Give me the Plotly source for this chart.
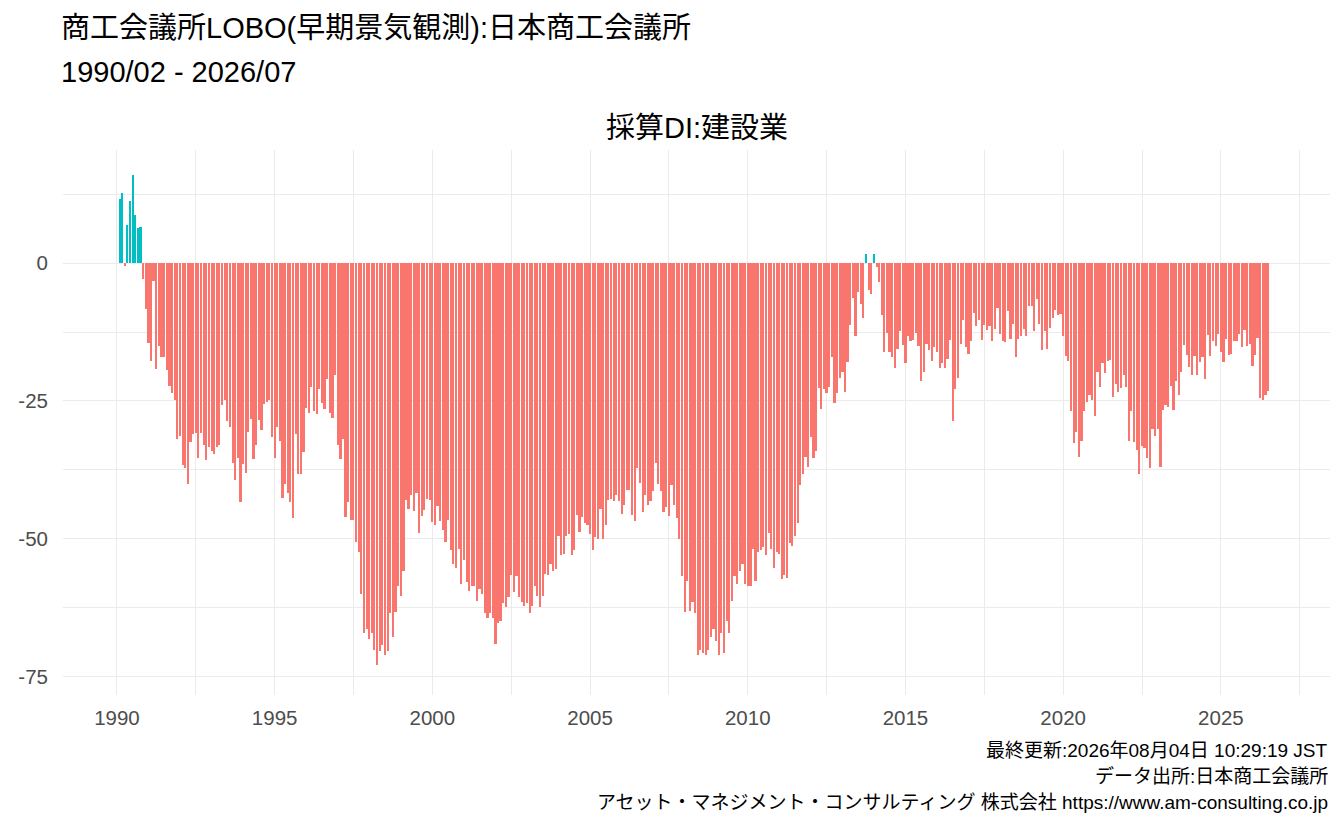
import pandas as pd
import plotly.graph_objects as go

# 採算DI:建設業 (monthly, 1990/02 - 2026/07)
start_month = "1990-02-01"
di_values = [
    11.7, 12.7, -0.5, 6.9, 11.2, 15.9, 8.7, 6.3, 6.5, -2.9, -8.3,                 # 1990 (Feb-)
    -14.4, -17.7, -3.3, -19.2, -15.0, -17.0, -17.0, -19.3, -22.2, -23.6, -24.8, -31.9,  # 1991
    -31.3, -36.6, -37.1, -40.0, -32.4, -31.0, -30.8, -35.3, -30.8, -33.0, -35.7, -33.3,  # 1992
    -34.0, -34.7, -33.3, -32.9, -25.8, -24.8, -28.6, -29.8, -36.2, -39.4, -35.3, -43.4,  # 1993
    -36.5, -38.0, -30.6, -28.2, -35.6, -32.9, -28.4, -30.2, -25.5, -25.1, -24.9, -31.5,  # 1994
    -35.3, -29.8, -32.2, -42.5, -40.0, -41.6, -43.4, -46.3, -30.9, -38.2, -38.3, -34.2,  # 1995
    -26.2, -27.1, -22.4, -26.9, -27.3, -22.9, -25.3, -26.4, -21.1, -27.1, -28.0, -20.2,  # 1996
    -32.9, -35.6, -31.8, -46.0, -43.4, -46.5, -46.5, -50.5, -52.3, -59.9, -67.1, -66.4,  # 1997
    -68.2, -67.1, -70.2, -72.9, -70.4, -69.3, -71.1, -70.4, -63.4, -67.7, -63.2, -58.6,  # 1998
    -60.4, -55.9, -42.9, -44.5, -42.0, -44.9, -41.6, -48.9, -45.8, -44.7, -42.7, -42.9,  # 1999
    -47.0, -47.4, -44.0, -46.7, -48.3, -50.5, -46.5, -52.1, -54.5, -55.2, -51.9, -58.1,  # 2000
    -53.9, -57.9, -59.5, -58.5, -58.6, -61.2, -59.0, -59.9, -63.4, -64.3, -63.5, -64.4,  # 2001
    -69.1, -65.2, -64.8, -61.7, -62.3, -60.6, -56.6, -59.7, -56.8, -60.6, -61.4, -62.1,  # 2002
    -61.7, -63.5, -62.1, -58.5, -60.3, -62.3, -60.3, -56.3, -56.5, -54.5, -55.9, -55.4,  # 2003
    -49.4, -53.0, -52.8, -49.4, -49.2, -53.0, -52.1, -45.6, -48.7, -46.0, -47.2, -47.4,  # 2004
    -49.2, -52.1, -49.6, -50.1, -44.5, -50.1, -47.4, -42.9, -42.7, -43.1, -42.0, -43.1,  # 2005
    -45.4, -43.8, -41.1, -41.1, -45.6, -46.7, -37.1, -39.8, -45.2, -42.0, -43.8, -43.1,  # 2006
    -41.4, -36.2, -40.0, -41.3, -45.2, -44.3, -45.8, -40.2, -43.8, -46.3, -50.1, -56.8,  # 2007
    -63.2, -57.7, -63.0, -61.5, -63.5, -71.0, -70.2, -70.6, -71.0, -70.2, -67.7, -66.4,  # 2008
    -68.6, -71.0, -67.1, -70.6, -64.8, -67.1, -61.2, -56.8, -58.1, -55.9, -54.5, -58.1,  # 2009
    -58.5, -58.6, -51.8, -57.7, -52.3, -52.1, -51.4, -53.0, -49.0, -51.9, -55.2, -52.3,  # 2010
    -52.8, -57.2, -56.6, -57.0, -50.8, -51.2, -49.4, -47.2, -40.2, -38.2, -35.1, -36.9,  # 2011
    -31.6, -35.3, -34.0, -22.6, -26.4, -22.8, -23.5, -22.4, -17.0, -25.3, -23.5, -20.8,  # 2012
    -19.7, -23.3, -17.9, -11.2, -6.3, -13.2, -5.2, -7.4, -9.9, 1.6, -4.8, -5.6,         # 2013
    1.6, -0.8, -3.4, -9.5, -16.2, -12.6, -16.2, -17.0, -19.0, -15.5, -12.4, -14.8,      # 2014
    -18.2, -13.2, -14.1, -13.9, -12.6, -15.0, -21.3, -19.7, -14.6, -15.7, -17.7, -15.2,  # 2015
    -16.1, -19.1, -18.2, -19.1, -17.3, -13.9, -28.7, -22.8, -20.8, -14.6, -10.4, -15.2,  # 2016
    -16.4, -14.1, -9.0, -11.4, -10.3, -13.9, -11.2, -12.1, -11.4, -14.1, -11.9, -8.1,   # 2017
    -12.8, -14.1, -14.3, -8.6, -13.7, -11.0, -17.0, -13.7, -13.2, -11.9, -13.2, -7.7,   # 2018
    -7.7, -12.4, -6.6, -11.0, -15.7, -12.3, -15.5, -11.7, -9.9, -8.5, -9.5, -9.2,       # 2019
    -13.2, -16.8, -17.7, -26.9, -32.7, -30.6, -35.1, -32.2, -26.8, -25.1, -23.9, -24.9,  # 2020
    -27.8, -19.7, -22.4, -18.2, -20.0, -17.7, -17.5, -24.2, -22.0, -23.3, -22.6, -20.2,  # 2021
    -22.4, -32.2, -26.8, -32.4, -33.8, -38.3, -33.1, -33.5, -35.3, -37.1, -30.0, -31.3,  # 2022
    -30.0, -37.0, -26.6, -25.8, -26.0, -22.2, -26.6, -21.3, -24.0, -19.7, -14.8, -16.6,  # 2023
    -18.8, -20.2, -16.8, -20.2, -17.9, -17.0, -21.0, -13.0, -16.8, -14.1, -15.0, -12.8,  # 2024
    -16.1, -17.9, -13.7, -16.6, -16.4, -14.1, -14.1, -12.8, -15.3, -12.1, -15.0, -14.6,  # 2025
    -18.6, -16.6, -13.5, -24.4, -24.8, -23.9, -23.1,                                     # 2026 (-Jul)
]
year_ticks = list(range(1990, 2030, 5))
minor_years = [1992.5 + 5 * i for i in range(8)]
y_ticks = [0, -25, -50, -75]
y_minor = [12.5, -12.5, -37.5, -62.5]

title_main = "商工会議所LOBO(早期景気観測):日本商工会議所"
title_period = "1990/02 - 2026/07"
panel_title = "採算DI:建設業"
caption_lines = [
    "最終更新:2026年08月04日 10:29:19 JST",
    "データ出所:日本商工会議所",
    "アセット・マネジメント・コンサルティング 株式会社 https://www.am-consulting.co.jp",
]

months = pd.date_range(start_month, periods=len(di_values), freq="MS")
colors = ["#00BFC4" if v > 0 else "#F8766D" for v in di_values]

def year_to_date(y):
    yr = int(y)
    return pd.Timestamp(yr, 1, 1) + (pd.Timestamp(yr + 1, 1, 1) - pd.Timestamp(yr, 1, 1)) * (y - yr)

FONT = "Liberation Sans, Arial, Noto Sans CJK JP"
GRID = "#EBEBEB"

fig = go.Figure()
fig.add_trace(go.Bar(x=months, y=di_values, marker=dict(color=colors, line=dict(width=0)),
                     width=25.2 * 86400000, showlegend=False))

fig.update_layout(
    width=1344, height=830,
    margin=dict(l=63, r=14, t=150, b=135),
    paper_bgcolor="white", plot_bgcolor="white",
    font=dict(family=FONT, color="black"),
    bargap=0,
    xaxis=dict(
        type="date",
        range=[year_to_date(1988.29), year_to_date(2028.46)],
        tickvals=[pd.Timestamp(y, 1, 1) for y in year_ticks],
        ticktext=[str(y) for y in year_ticks],
        tickfont=dict(size=20.5, color="#4D4D4D"),
        ticklabelstandoff=8,
        showgrid=True, gridcolor=GRID, gridwidth=1.1,
        minor=dict(tickvals=[year_to_date(y) for y in minor_years], showgrid=True,
                   gridcolor=GRID, gridwidth=0.6, ticks=""),
        zeroline=False, showline=False, ticks="",
    ),
    yaxis=dict(
        range=[-78.3, 20.5],
        tickvals=y_ticks,
        ticktext=[str(v) for v in y_ticks],
        tickfont=dict(size=20.5, color="#4D4D4D"),
        ticklabelstandoff=14,
        showgrid=True, gridcolor=GRID, gridwidth=1.1,
        minor=dict(tickvals=y_minor, showgrid=True, gridcolor=GRID, gridwidth=0.6, ticks=""),
        zeroline=False, showline=False, ticks="",
    ),
)

def py(pixel_y):
    # pixel row in the page -> paper y
    return (695 - pixel_y) / 545

fig.add_annotation(text=title_main, x=-0.003, y=py(28), xref="paper", yref="paper",
                   xanchor="left", yanchor="middle", showarrow=False, font=dict(size=29))
fig.add_annotation(text=title_period, x=-0.003, y=py(72), xref="paper", yref="paper",
                   xanchor="left", yanchor="middle", showarrow=False, font=dict(size=29))
fig.add_annotation(text=panel_title, x=0.5, y=py(128), xref="paper", yref="paper",
                   xanchor="center", yanchor="middle", showarrow=False, font=dict(size=29))
for i, line in enumerate(caption_lines):
    fig.add_annotation(text=line, x=1, y=py(750 + 26 * i), xref="paper", yref="paper",
                       xanchor="right", yanchor="middle", showarrow=False, font=dict(size=19))

fig.write_html("out.html", config={"displayModeBar": False},
               post_script="document.body.style.margin = '0px';")
